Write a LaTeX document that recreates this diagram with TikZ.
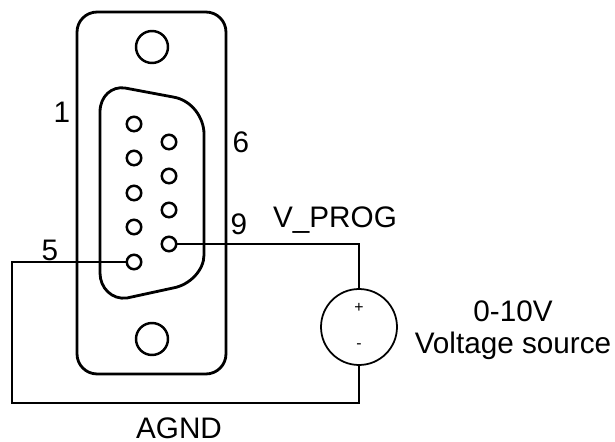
\documentclass[tikz,border=0pt]{standalone}
\usepackage{fontspec}
\setmainfont{Liberation Sans}

\begin{document}
\begin{tikzpicture}[x=0.02cm, y=-0.02cm,
		shell_style/.style={draw=black,line width=1.6pt,rounded corners=0.4cm,inner sep=0pt,minimum width=2.98cm,minimum height=7.24cm},
		screw_style/.style={circle,draw=black,line width=1.4pt,inner sep=0pt,minimum size=0.64cm},
		pin_style/.style={circle,draw=black,line width=1.4pt,fill=white,inner sep=0pt,minimum size=0.29cm},
		source_style/.style={circle,draw=black,line width=1pt,inner sep=0pt,minimum size=1.52cm},
		edge_style/.style={draw=black,line width=1pt},
		label_style/.style={font=\fontsize{16.9}{20}\selectfont,inner sep=0pt},
		sign_style/.style={font=\fontsize{9}{11}\selectfont,inner sep=0pt}]

		\useasboundingbox (0,0) rectangle (615,442);

		\node[shell_style] (body) at (151.5,193)  {};
		\node[screw_style] (screw1) at (152,47)  {};
		\node[screw_style] (screw2) at (152,339)  {};

		% D-shaped insert
		\draw[line width=1.6pt] (100,112) .. controls (100,96) and (112,86) .. (125,88)
			-- (173,97) .. controls (192,100) and (204,118) .. (204,134)
			-- (204,255) .. controls (204,270) and (190,285) .. (173,288)
			-- (127,298) .. controls (112,300) and (100,288) .. (100,273) -- cycle;

		\node[source_style] (src) at (359,327)  {};
		\node[sign_style] (plus) at (359,308)  {+};
		\node[sign_style] (minus) at (359,346)  {-};

		\coordinate (c1) at (12,261);
		\coordinate (c2) at (12,403);
		\coordinate (c3) at (359,241);

		\node[pin_style] (pin1) at (134,124)  {};
		\node[pin_style] (pin2) at (134,158)  {};
		\node[pin_style] (pin3) at (134,193)  {};
		\node[pin_style] (pin4) at (134,227)  {};
		\node[pin_style] (pin5) at (134,262)  {};
		\node[pin_style] (pin6) at (169,142)  {};
		\node[pin_style] (pin7) at (169,176)  {};
		\node[pin_style] (pin8) at (169,210)  {};
		\node[pin_style] (pin9) at (169,244)  {};

		\draw[edge_style]  (pin5.west) -- (pin5.west -| c1) -- (c2) -| (src.south);
		\draw[edge_style]  (pin9.east) -- (pin9.east -| c3) -- (src.north);

		\node[label_style] (l1) at (62,112)  {1};
		\node[label_style] (l6) at (241,142)  {6};
		\node[label_style] (l9) at (239,224)  {9};
		\node[label_style] (l5) at (50,250)  {5};
		\node[label_style] (vprog) at (335,220)  {V\_PROG};
		\node[label_style] (agnd) at (179,428)  {AGND};
		\node[label_style] (range) at (513,311)  {0-10V};
		\node[label_style] (vsrc) at (513,346)  {Voltage source};

\end{tikzpicture}
\end{document}
